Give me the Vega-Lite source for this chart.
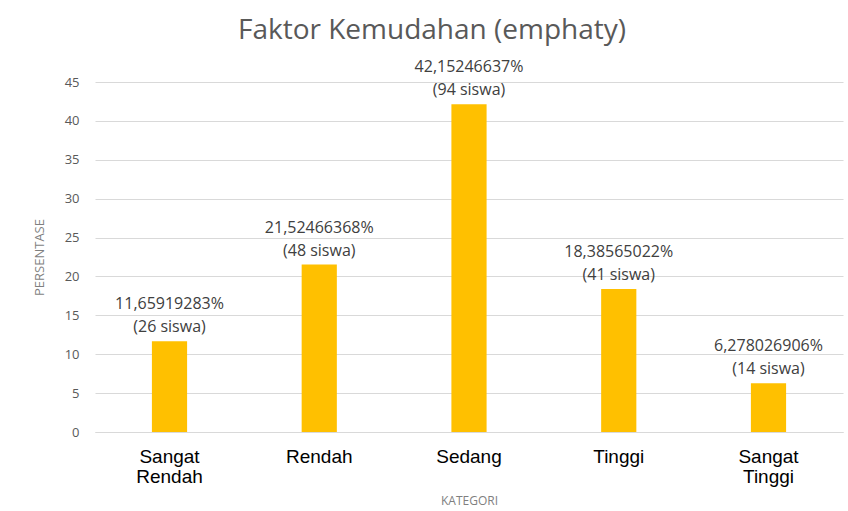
{
  "$schema": "https://vega.github.io/schema/vega-lite/v6.json",
  "width": 748,
  "height": 350,
  "autosize": {"type": "none"},
  "padding": {"left": 95, "top": 82, "right": 5, "bottom": 79},
  "background": "white",
  "title": {
    "text": "Faktor Kemudahan (emphaty)",
    "font": "Open Sans",
    "fontSize": 28,
    "fontWeight": "normal",
    "color": "#595959",
    "anchor": "middle",
    "dx": -37,
    "offset": 14
  },
  "data": {
    "values": [
      {"kategori": "Sangat Rendah", "persen": 11.65919283, "pct": "11,65919283%", "siswa": "(26 siswa)"},
      {"kategori": "Rendah", "persen": 21.52466368, "pct": "21,52466368%", "siswa": "(48 siswa)"},
      {"kategori": "Sedang", "persen": 42.15246637, "pct": "42,15246637%", "siswa": "(94 siswa)"},
      {"kategori": "Tinggi", "persen": 18.38565022, "pct": "18,38565022%", "siswa": "(41 siswa)"},
      {"kategori": "Sangat Tinggi", "persen": 6.278026906, "pct": "6,278026906%", "siswa": "(14 siswa)"}
    ]
  },
  "encoding": {
    "x": {
      "field": "kategori",
      "type": "nominal",
      "sort": null,
      "scale": {"paddingInner": 0.765, "paddingOuter": 0.38},
      "axis": {
        "title": "KATEGORI",
        "titleFont": "Open Sans",
        "titleFontSize": 12,
        "titleFontWeight": "normal",
        "titleColor": "#7f7f7f",
        "titlePadding": 9,
        "labelAngle": 0,
        "labelFont": "Liberation Sans",
        "labelFontSize": 19,
        "labelColor": "#000000",
        "labelLineHeight": 20,
        "labelPadding": 15,
        "labelExpr": "split(datum.label, ' ')",
        "ticks": false,
        "domainColor": "#d9d9d9",
        "domainWidth": 1
      }
    },
    "y": {
      "field": "persen",
      "type": "quantitative",
      "scale": {"domain": [0, 45]},
      "axis": {
        "title": "PERSENTASE",
        "titleFont": "Open Sans",
        "titleFontSize": 13,
        "titleFontWeight": "normal",
        "titleColor": "#7f7f7f",
        "titlePadding": 18,
        "values": [0, 5, 10, 15, 20, 25, 30, 35, 40, 45],
        "labelFont": "Open Sans",
        "labelFontSize": 13,
        "labelColor": "#595959",
        "labelPadding": 16,
        "ticks": false,
        "domain": false,
        "gridColor": "#d9d9d9",
        "gridWidth": 1
      }
    }
  },
  "layer": [
    {"mark": {"type": "bar", "color": "#FFC000"}},
    {
      "mark": {"type": "text", "font": "Open Sans", "fontSize": 16, "color": "#404040", "baseline": "middle", "dy": -37},
      "encoding": {"text": {"field": "pct"}}
    },
    {
      "mark": {"type": "text", "font": "Open Sans", "fontSize": 16, "color": "#404040", "baseline": "middle", "dy": -14},
      "encoding": {"text": {"field": "siswa"}}
    }
  ],
  "config": {"view": {"stroke": null}}
}
